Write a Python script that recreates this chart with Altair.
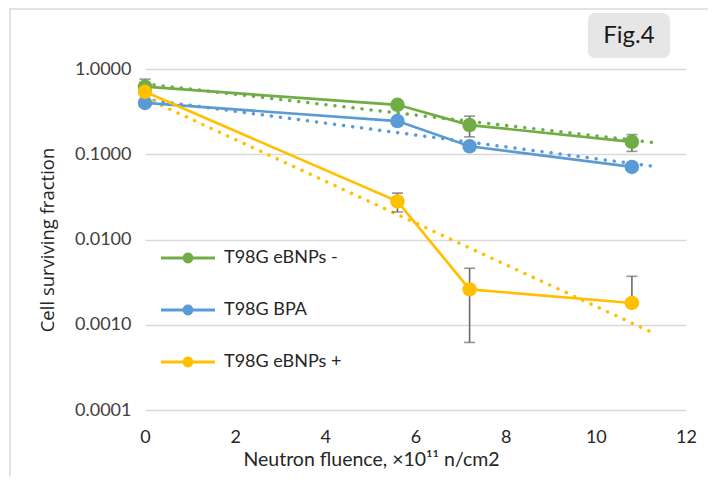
import altair as alt
import pandas as pd

# ---- data ----
fluence = [0, 5.6, 7.2, 10.8]
series_names = ["T98G eBNPs -", "T98G BPA", "T98G eBNPs +"]
colors = ["#70ad47", "#5b9bd5", "#ffc000"]

green = [0.62, 0.38, 0.22, 0.14]
blue = [0.40, 0.245, 0.124, 0.071]
yellow = [0.54, 0.028, 0.0026, 0.0018]

# error bars (upper, lower); None = not drawn
green_hi = [0.76, None, 0.28, 0.17]
green_lo = [0.50, None, 0.16, 0.108]
yellow_hi = [None, 0.035, 0.0046, 0.0037]
yellow_lo = [None, 0.021, 0.00062, 0.0018]

# exponential trend lines (endpoints)
trend_x = [0, 11.3]
green_trend = [0.67, 0.137]
blue_trend = [0.44, 0.072]
yellow_trend = [0.46, 0.00079]

y_ticks = [0.0001, 0.001, 0.01, 0.1, 1]
x_ticks = [0, 2, 4, 6, 8, 10, 12]

# ---- tables ----
rows = []
for name, vals in zip(series_names, [green, blue, yellow]):
    for x, v in zip(fluence, vals):
        rows.append({"series": name, "x": x, "y": v})
df = pd.DataFrame(rows)

trows = []
for name, vals in zip(series_names, [green_trend, blue_trend, yellow_trend]):
    for x, v in zip(trend_x, vals):
        trows.append({"series": name, "x": x, "y": v})
tdf = pd.DataFrame(trows)

erows = []
for name, hi, lo in [(series_names[0], green_hi, green_lo), (series_names[2], yellow_hi, yellow_lo)]:
    for x, h, l in zip(fluence, hi, lo):
        if h is not None:
            erows.append({"series": name, "x": x, "hi": h, "lo": l,
                          "has_lo": not (name == series_names[2] and x > 10)})
edf = pd.DataFrame(erows)

color_scale = alt.Scale(domain=series_names, range=colors)
xs = alt.Scale(domain=[0, 12], nice=False, zero=False)
ys = alt.Scale(type="log", domain=[0.0001, 1], nice=False)

X = alt.X("x:Q", scale=xs, axis=alt.Axis(values=x_ticks, title="Neutron fluence, ×10¹¹ n/cm2",
                                         titleX=226, titleAlign="center"))
Y = alt.Y("y:Q", scale=ys, axis=alt.Axis(values=y_ticks, format=".4f", title="Cell surviving fraction"))

leg_path = ("M-1,-0.06 L1,-0.06 L1,0.06 L-1,0.06 Z "
            "M-0.2,0 A0.2,0.2 0 1,1 0.2,0 A0.2,0.2 0 1,1 -0.2,0 Z")

trend = alt.Chart(tdf).mark_line(strokeWidth=3.5, strokeDash=[0.1, 9], strokeCap="round").encode(
    x=X, y=Y, color=alt.Color("series:N", scale=color_scale, legend=None), detail="series:N"
)
lines = alt.Chart(df).mark_line(strokeWidth=2.7).encode(
    x=X, y=Y, color=alt.Color("series:N", scale=color_scale, legend=None), detail="series:N"
)
ebar = alt.Chart(edf).mark_rule(color="#6b6b6b", strokeWidth=1.6).encode(
    x=alt.X("x:Q", scale=xs), y=alt.Y("hi:Q", scale=ys), y2="lo:Q"
)
ecap_hi = alt.Chart(edf).mark_tick(color="#6b6b6b", orient="horizontal", size=11, thickness=1.6).encode(
    x=alt.X("x:Q", scale=xs), y=alt.Y("hi:Q", scale=ys)
)
ecap_lo = alt.Chart(edf).transform_filter("datum.has_lo").mark_tick(
    color="#6b6b6b", orient="horizontal", size=11, thickness=1.6).encode(
    x=alt.X("x:Q", scale=xs), y=alt.Y("lo:Q", scale=ys)
)
points = alt.Chart(df).mark_circle(size=210, opacity=1).encode(
    x=X, y=Y,
    color=alt.Color("series:N", scale=color_scale, sort=series_names,
                    legend=alt.Legend(title=None, orient="none", legendX=16, legendY=162,
                                      symbolType=leg_path, symbolSize=2916, symbolStrokeWidth=0,
                                      labelFont="Lato", labelFontSize=18, labelColor="#262626",
                                      labelOffset=9, rowPadding=16, labelLimit=300)),
)

# decorations: Fig.4 label box and chart border
fig_box = alt.Chart(pd.DataFrame({"t": ["Fig.4"]})).mark_rect(
    fill="#e6e6e6", cornerRadius=7).encode(
    x=alt.value(443), x2=alt.value(525), y=alt.value(-56), y2=alt.value(-11))
fig_text = alt.Chart(pd.DataFrame({"t": ["Fig.4"]})).mark_text(
    font="Lato", fontSize=24, color="#1a1a1a", align="center", baseline="middle").encode(
    x=alt.value(484), y=alt.value(-33), text="t:N")
border_left = alt.Chart(pd.DataFrame({"t": [1]})).mark_rule(color="#d9d9d9", strokeWidth=1.5).encode(
    x=alt.value(-135), y=alt.value(-61), y2=alt.value(410))
border_top = alt.Chart(pd.DataFrame({"t": [1]})).mark_rule(color="#d9d9d9", strokeWidth=1.5).encode(
    x=alt.value(-136), x2=alt.value(580), y=alt.value(-60))

chart = alt.layer(
    border_left, border_top, fig_box, fig_text,
    trend, lines, ebar, ecap_hi, ecap_lo, points
).resolve_scale(color="independent").properties(
    width=541, height=341,
    autosize=alt.AutoSizeParams(type="none"),
    padding={"left": 137, "top": 61, "right": 22, "bottom": 66},
).configure_view(stroke=None).configure_axisY(
    grid=True, gridColor="#d9d9d9", gridWidth=1.4, domain=False, ticks=False,
    labelFont="Lato", labelFontSize=18, labelColor="#404040", labelPadding=14,
    titleFont="Open Sans", titleFontSize=18.5, titleFontWeight="normal", titleColor="#262626",
    titlePadding=17,
).configure_axisX(
    grid=False, domain=False, ticks=False, labelFlush=False,
    labelFont="Lato", labelFontSize=18, labelColor="#262626", labelPadding=18,
    titleFont="Lato", titleFontSize=19.5, titleFontWeight="normal", titleColor="#262626",
    titlePadding=4,
)

chart.save("out.html", embed_options={"renderer": "svg", "actions": False})
